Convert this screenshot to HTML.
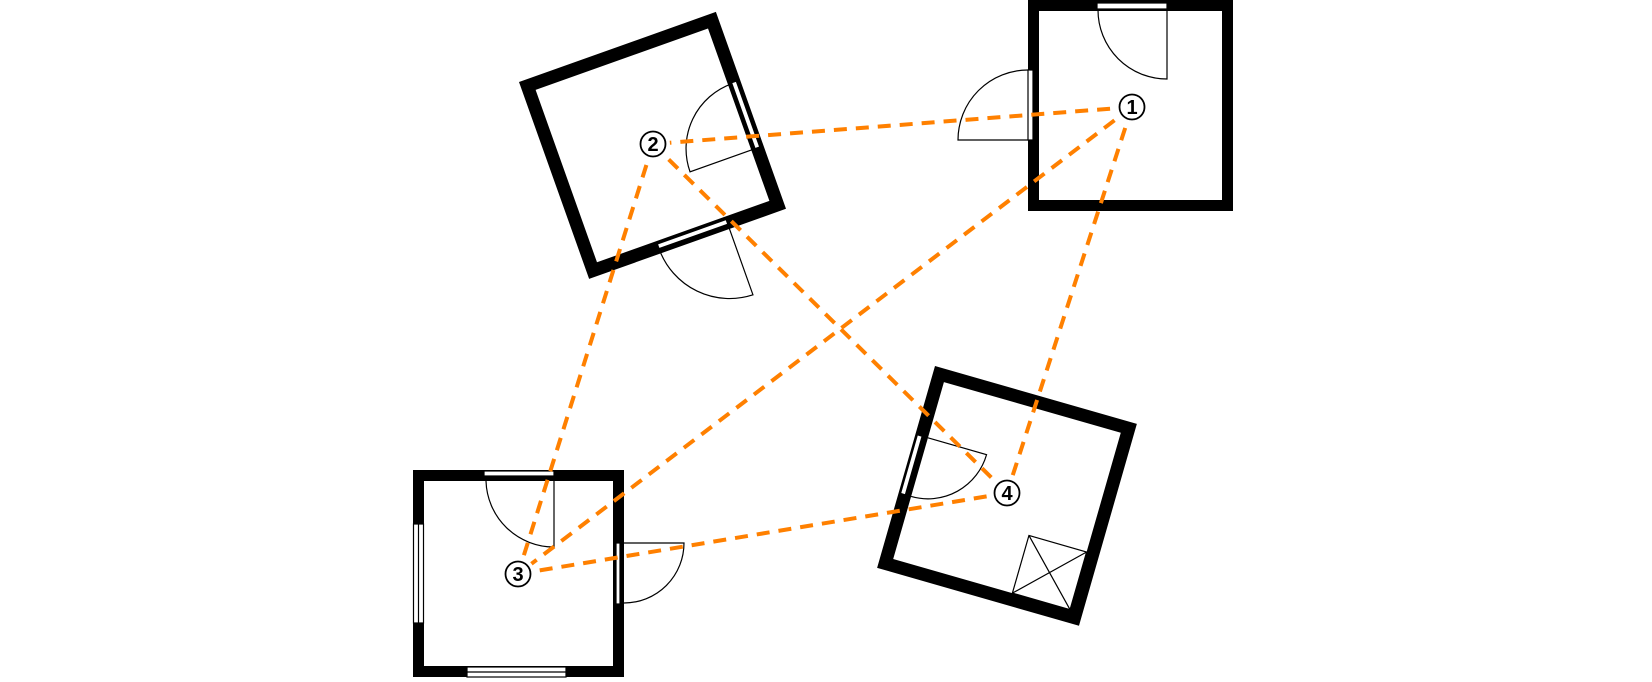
<!DOCTYPE html>
<html><head><meta charset="utf-8"><style>
html,body{margin:0;padding:0;background:#fff;}
svg{display:block;}
text{font-family:"Liberation Sans",sans-serif;font-weight:bold;font-size:20px;}
</style></head><body>
<svg width="1652" height="682" viewBox="0 0 1652 682" xmlns="http://www.w3.org/2000/svg">
<g fill="none" stroke="#000" stroke-width="1.2">
<!-- Room 1 -->
<path d="M1028,0 H1233 V211 H1028 Z M1039,11 V200 H1222 V11 Z" fill="#000" fill-rule="evenodd" stroke="none"/>
<rect x="1097" y="3" width="70" height="6" fill="#fff"/>
<path d="M1167,10 V79 A69,69 0 0 1 1098,10"/>
<rect x="1028" y="70" width="5" height="70" fill="#fff"/>
<path d="M1028,140 H958 A70,70 0 0 1 1028,70"/>

<!-- Room 2 -->
<g transform="translate(519,82) rotate(-19.6)">
<path d="M0,0 H209 V209 H0 Z M13,13 V196 H196 V13 Z" fill="#000" fill-rule="evenodd" stroke="none"/>
<rect x="200" y="72" width="5" height="70" fill="#fff"/>
<path d="M200,142 H131 A69,69 0 0 1 200,73"/>
<rect x="76" y="199" width="73" height="5" fill="#fff"/>
<path d="M149,204 V279 A75,75 0 0 1 76,205"/>
</g>

<!-- Room 4 -->
<g transform="translate(935,366) rotate(16)">
<path d="M0,0 H210 V210 H0 Z M13,13 V197 H197 V13 Z" fill="#000" fill-rule="evenodd" stroke="none"/>
<rect x="2" y="71" width="5" height="61" fill="#fff"/>
<path d="M13,71 H74 A61,61 0 0 1 13,132"/>
<path d="M137,137 H197 V197 H137 Z M137,137 L197,197 M197,137 L137,197"/>
</g>

<!-- Room 3 -->
<path d="M413,470 H624 V677 H413 Z M424,481 V666 H613 V481 Z" fill="#000" fill-rule="evenodd" stroke="none"/>
<rect x="484" y="471" width="70" height="5" fill="#fff"/>
<path d="M554,481 V547 A68,68 0 0 1 486,481"/>
<rect x="413.5" y="524" width="10" height="99" fill="#fff"/>
<path d="M418.5,524 V623"/>
<rect x="467" y="667" width="99" height="10" fill="#fff"/>
<path d="M467,672 H566"/>
<rect x="616" y="543" width="4" height="61" fill="#fff"/>
<path d="M624,543 H684 A60,60 0 0 1 624,603"/>
</g>

<!-- dashed connections -->
<g stroke="#ff8000" stroke-width="4" stroke-dasharray="13,9" fill="none">
<line x1="1132" y1="107" x2="653" y2="144"/>
<line x1="1132" y1="107" x2="518" y2="574"/>
<line x1="1132" y1="107" x2="1007" y2="493"/>
<line x1="653" y1="144" x2="518" y2="574"/>
<line x1="653" y1="144" x2="1007" y2="493"/>
<line x1="518" y1="574" x2="1007" y2="493"/>
</g>

<!-- labels -->
<g>
<circle cx="1132" cy="107" r="17" fill="#fff"/>
<circle cx="653" cy="144" r="17" fill="#fff"/>
<circle cx="518" cy="574" r="17" fill="#fff"/>
<circle cx="1007" cy="493" r="17" fill="#fff"/>
<g fill="#fff" stroke="#000" stroke-width="1.8">
<circle cx="1132" cy="107" r="12.5"/>
<circle cx="653" cy="144" r="12.5"/>
<circle cx="518" cy="574" r="12.5"/>
<circle cx="1007" cy="493" r="12.5"/>
</g>
<g fill="#000" text-anchor="middle">
<text x="1132" y="114" font-weight="normal">1</text>
<text x="653" y="151">2</text>
<text x="518" y="581">3</text>
<text x="1007" y="500">4</text>
</g>
</g>
</svg>
</body></html>
